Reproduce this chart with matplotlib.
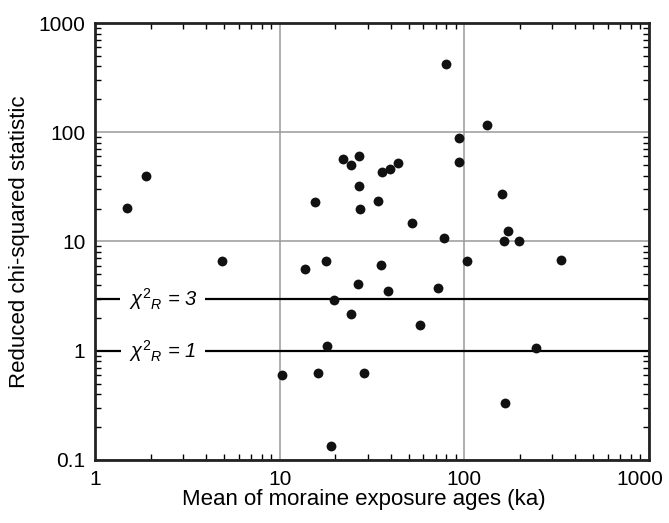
import matplotlib
matplotlib.use("Agg")
import matplotlib.pyplot as plt
import matplotlib.transforms as mtransforms
from matplotlib.ticker import LogLocator, NullFormatter, FixedLocator

plt.rcParams['font.family'] = ['Liberation Sans', 'DejaVu Sans']
plt.rcParams['mathtext.fontset'] = 'custom'
plt.rcParams['mathtext.rm'] = 'Liberation Sans'
plt.rcParams['mathtext.it'] = 'Liberation Sans:italic'

# mean moraine age (ka) and reduced chi-squared
ages = [1.49, 1.90, 4.87, 15.5, 13.7, 17.8, 22.0, 24.5, 26.9, 26.9,
        27.2, 34.1, 35.8, 39.6, 43.7, 52.0, 77.6, 79.5, 93.1, 93.8,
        132, 161, 172, 164, 198, 333, 103, 35.3, 26.7, 38.7,
        71.7, 19.8, 24.5, 57.5, 244, 28.7, 166, 17.97, 10.25, 16.2,
        18.9]
chi2 = [20.3, 39.5, 6.67, 23.1, 5.6, 6.67, 57, 49.8, 61, 32,
        19.7, 23.5, 43.6, 46.1, 52.4, 14.8, 10.7, 425, 89.3, 53.8,
        117, 27, 12.5, 10.1, 10.1, 6.8, 6.6, 6.1, 4.08, 3.52,
        3.75, 2.93, 2.17, 1.72, 1.06, 0.629, 0.329, 1.11, 0.603, 0.629,
        0.135]
ref_levels = [3, 1]
ref_labels = [r'$\chi^{2}{}_{R}$ = 3', r'$\chi^{2}{}_{R}$ = 1']

fig = plt.figure(figsize=(6.69, 5.23), dpi=100)
ax = fig.add_axes([0.142, 0.1205, 0.828, 0.8355])
ax.set_xscale('log')
ax.set_yscale('log')
ax.set_xlim(1, 1000)
ax.set_ylim(0.1, 1000)

ax.grid(True, which='major', color='#9a9a9a', lw=1.1)
ax.set_axisbelow(True)

for lev, lab in zip(ref_levels, ref_labels):
    ax.axhline(lev, color='black', lw=1.6, zorder=2)
    ax.text(2.33, lev, lab, fontsize=14.5, style='italic', ha='center', va='center',
            zorder=3, bbox=dict(facecolor='white', edgecolor='none', pad=6))

ax.scatter(ages, chi2, s=50, color='#111111', zorder=4, linewidths=0)

ax.xaxis.set_major_locator(FixedLocator([1, 10, 100, 1000]))
ax.yaxis.set_major_locator(FixedLocator([0.1, 1, 10, 100, 1000]))
ax.set_xticklabels(['1', '10', '100', '1000'])
ax.set_yticklabels(['0.1', '1', '10', '100', '1000'])
ax.xaxis.set_minor_locator(LogLocator(base=10, subs=range(2, 10)))
ax.yaxis.set_minor_locator(LogLocator(base=10, subs=range(2, 10)))
ax.xaxis.set_minor_formatter(NullFormatter())
ax.yaxis.set_minor_formatter(NullFormatter())
ax.tick_params(which='both', direction='in', top=True, right=True, labelsize=15, width=1)
ax.tick_params(which='major', length=0, pad=7)
ax.tick_params(which='minor', length=4)

# last x label sits a bit left so it stays inside the figure
last = ax.get_xticklabels()[-1]
last.set_transform(last.get_transform() +
                   mtransforms.ScaledTranslation(-9 / 100, 0, fig.dpi_scale_trans))

for sp in ax.spines.values():
    sp.set_linewidth(2)
    sp.set_color('#222222')

ax.set_xlabel('Mean of moraine exposure ages (ka)', fontsize=16)
ax.xaxis.set_label_coords(0.486, -0.066)
ax.set_ylabel('Reduced chi-squared statistic', fontsize=16, labelpad=6)

fig.savefig('out.png', dpi=100)
